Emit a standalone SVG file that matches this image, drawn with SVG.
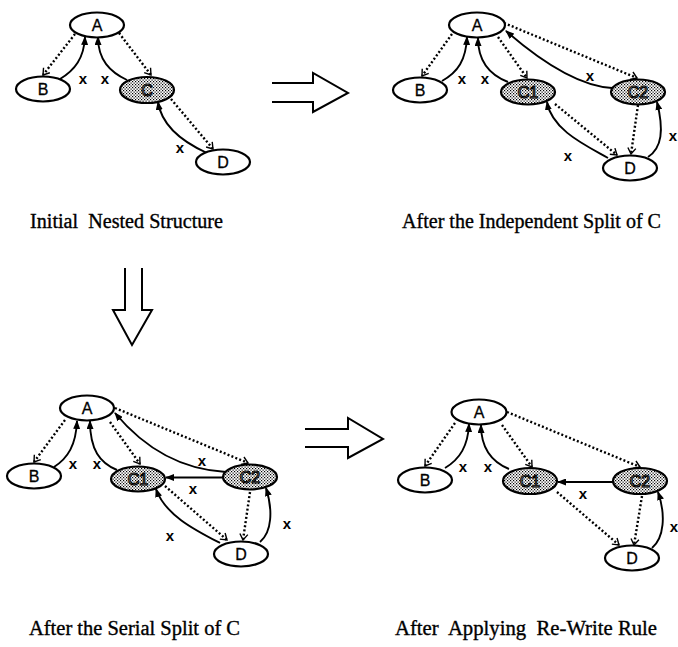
<svg xmlns="http://www.w3.org/2000/svg" width="678" height="647" viewBox="0 0 678 647">
<defs>
<pattern id="dots" width="3" height="3" patternUnits="userSpaceOnUse">
<rect width="3" height="3" fill="#ffffff"/>
<rect x="0" y="0" width="1.2" height="1.2" fill="#000"/>
<rect x="1.5" y="1.5" width="1.2" height="1.2" fill="#000"/>
</pattern>
<marker id="fa" markerUnits="userSpaceOnUse" markerWidth="9" markerHeight="7" refX="8" refY="3.5" orient="auto">
<path d="M0,0 L9,3.5 L0,7 z" fill="#000"/>
</marker>
<marker id="oa" markerUnits="userSpaceOnUse" markerWidth="10" markerHeight="10" refX="7" refY="5" orient="auto">
<path d="M1,1 L7,5 L1,9" fill="none" stroke="#000" stroke-width="1.4"/>
</marker>
</defs>
<style>
.n ellipse{fill:#fff;stroke:#000;stroke-width:2.2}
.n.s ellipse{fill:url(#dots)}
.n text{font-family:"Liberation Sans",Arial,sans-serif;font-size:16px;text-anchor:middle;fill:#000;stroke:#000;stroke-width:0.3}
.n.s text{fill:#fff;stroke:#000;stroke-width:1.1}
.sol{fill:none;stroke:#000;stroke-width:1.9;marker-end:url(#fa)}
.dot{fill:none;stroke:#000;stroke-width:2.4;stroke-dasharray:2 2.2;marker-end:url(#oa)}
.lx{font-family:"Liberation Sans",Arial,sans-serif;font-size:15px;font-weight:bold;text-anchor:middle;fill:#000}
.cap{font-family:"Liberation Serif","Times New Roman",serif;font-size:20px;fill:#000;stroke:#000;stroke-width:0.35}
.big{fill:none;stroke:#000;stroke-width:2}
</style>

<!-- Diagram 1: Initial Nested Structure -->
<g id="d1-edges">
<path class="dot" d="M75,34 L43,75"/>
<path class="sol" d="M60,79 C75,70 84,58 85,37"/>
<path class="sol" d="M127,80 C110,72 98,60 98,37"/>
<path class="dot" d="M119,33 L151,75"/>
<path class="dot" d="M171,99 L213,149"/>
<path class="sol" d="M207,153 C185,143 162,128 158,102"/>
<text class="lx" x="83" y="84">x</text>
<text class="lx" x="105" y="84">x</text>
<text class="lx" x="180" y="153">x</text>
</g>
<g id="d1-A" class="n"><ellipse cx="97" cy="25" rx="27" ry="12.5"/><text x="97" y="31">A</text></g>
<g id="d1-B" class="n"><ellipse cx="43" cy="89" rx="27" ry="12.5"/><text x="43" y="95">B</text></g>
<g id="d1-C" class="n s"><ellipse cx="147" cy="90" rx="27" ry="13"/><text x="147" y="96">C</text></g>
<g id="d1-D" class="n"><ellipse cx="223" cy="162" rx="27" ry="12.5"/><text x="223" y="168">D</text></g>

<!-- Diagram 2: After the Independent Split of C -->
<g id="d2-edges">
<path class="dot" d="M452,34 L422,76"/>
<path class="sol" d="M442,81 C458,72 466,60 467,37"/>
<path class="sol" d="M508,82 C490,75 478,62 478,38"/>
<path class="dot" d="M498,37 L527,78"/>
<path class="dot" d="M504,23 L637,78"/>
<path class="sol" d="M612,88 C580,86 545,65 506,31"/>
<path class="dot" d="M555,104 L617,155"/>
<path class="dot" d="M638,105 L631,154"/>
<path class="sol" d="M608,158 C585,145 552,130 547,102"/>
<path class="sol" d="M648,157 C662,148 664,130 657,102"/>
<text class="lx" x="462" y="84">x</text>
<text class="lx" x="485" y="84">x</text>
<text class="lx" x="590" y="81">x</text>
<text class="lx" x="568" y="161">x</text>
<text class="lx" x="673" y="141">x</text>
</g>
<g id="d2-A" class="n"><ellipse cx="477" cy="25" rx="28" ry="12.5"/><text x="477" y="31">A</text></g>
<g id="d2-B" class="n"><ellipse cx="420" cy="90" rx="27" ry="12.5"/><text x="420" y="96">B</text></g>
<g id="d2-C1" class="n s"><ellipse cx="528" cy="92" rx="27" ry="12.5"/><text x="528" y="98">C1</text></g>
<g id="d2-C2" class="n s"><ellipse cx="638" cy="92" rx="27" ry="12.5"/><text x="638" y="98">C2</text></g>
<g id="d2-D" class="n"><ellipse cx="630" cy="168" rx="27" ry="12.5"/><text x="630" y="174">D</text></g>

<!-- Diagram 3: After the Serial Split of C -->
<g id="d3-edges">
<path class="dot" d="M65,420 L34,462"/>
<path class="sol" d="M54,467 C68,458 76,445 77,421"/>
<path class="sol" d="M117,470 C100,463 90,450 90,421"/>
<path class="dot" d="M110,422 L140,464"/>
<path class="dot" d="M115,408 L248,463"/>
<path class="sol" d="M226,472 C190,470 150,455 115,413"/>
<path class="sol" d="M223,477.5 L166,477.5"/>
<path class="dot" d="M165,486 L227,540"/>
<path class="dot" d="M250,492 L243,540"/>
<path class="sol" d="M220,543 C195,530 165,515 156,489"/>
<path class="sol" d="M260,542 C272,532 273,510 266,488"/>
<text class="lx" x="73" y="469">x</text>
<text class="lx" x="97" y="469">x</text>
<text class="lx" x="202" y="466">x</text>
<text class="lx" x="193" y="494">x</text>
<text class="lx" x="170" y="541">x</text>
<text class="lx" x="287" y="529">x</text>
</g>
<g id="d3-A" class="n"><ellipse cx="87" cy="408" rx="27" ry="12.5"/><text x="87" y="414">A</text></g>
<g id="d3-B" class="n"><ellipse cx="34" cy="476" rx="27" ry="12.5"/><text x="34" y="482">B</text></g>
<g id="d3-C1" class="n s"><ellipse cx="138" cy="479" rx="27" ry="12.5"/><text x="138" y="485">C1</text></g>
<g id="d3-C2" class="n s"><ellipse cx="250" cy="477" rx="27" ry="12.5"/><text x="250" y="483">C2</text></g>
<g id="d3-D" class="n"><ellipse cx="241" cy="554" rx="27" ry="12.5"/><text x="241" y="560">D</text></g>

<!-- Diagram 4: After Applying Re-Write Rule -->
<g id="d4-edges">
<path class="dot" d="M455,423 L425,466"/>
<path class="sol" d="M445,468 C460,459 468,446 469,424"/>
<path class="sol" d="M509,469 C492,462 481,448 481,425"/>
<path class="dot" d="M502,425 L532,467"/>
<path class="dot" d="M507,412 L640,467"/>
<path class="sol" d="M613,482 L558,482"/>
<path class="dot" d="M557,492 L619,545"/>
<path class="dot" d="M642,496 L634,545"/>
<path class="sol" d="M652,548 C664,538 666,515 658,492"/>
<text class="lx" x="463" y="472">x</text>
<text class="lx" x="488" y="472">x</text>
<text class="lx" x="583" y="499">x</text>
<text class="lx" x="674" y="532">x</text>
</g>
<g id="d4-A" class="n"><ellipse cx="479" cy="412" rx="27.5" ry="12.5"/><text x="479" y="418">A</text></g>
<g id="d4-B" class="n"><ellipse cx="425" cy="480" rx="27" ry="12.5"/><text x="425" y="486">B</text></g>
<g id="d4-C1" class="n s"><ellipse cx="530" cy="481" rx="27" ry="13"/><text x="530" y="487">C1</text></g>
<g id="d4-C2" class="n s"><ellipse cx="640" cy="481" rx="27" ry="13"/><text x="640" y="487">C2</text></g>
<g id="d4-D" class="n"><ellipse cx="632" cy="558" rx="27" ry="12.5"/><text x="632" y="564">D</text></g>

<!-- Transformation arrows -->
<g id="arrow-right-top"><path class="big" d="M272,83 L313,83 L313,73 L348,93 L313,112 L313,102 L272,102"/></g>
<g id="arrow-down"><path class="big" d="M125,268 L125,310 L113,310 L132,345 L152,310 L142,310 L142,268"/></g>
<g id="arrow-right-bottom"><path class="big" d="M305,429 L348,429 L348,418 L383,439 L348,458 L348,447 L305,447"/></g>

<!-- Captions -->
<g id="captions">
<text class="cap" x="30" y="228" textLength="193" lengthAdjust="spacingAndGlyphs" xml:space="preserve">Initial  Nested Structure</text>
<text class="cap" x="402" y="228" textLength="259" lengthAdjust="spacingAndGlyphs">After the Independent Split of C</text>
<text class="cap" x="29" y="635" textLength="211" lengthAdjust="spacingAndGlyphs">After the Serial Split of C</text>
<text class="cap" x="395" y="635" textLength="262" lengthAdjust="spacingAndGlyphs" xml:space="preserve">After  Applying  Re-Write Rule</text>
</g>
</svg>
